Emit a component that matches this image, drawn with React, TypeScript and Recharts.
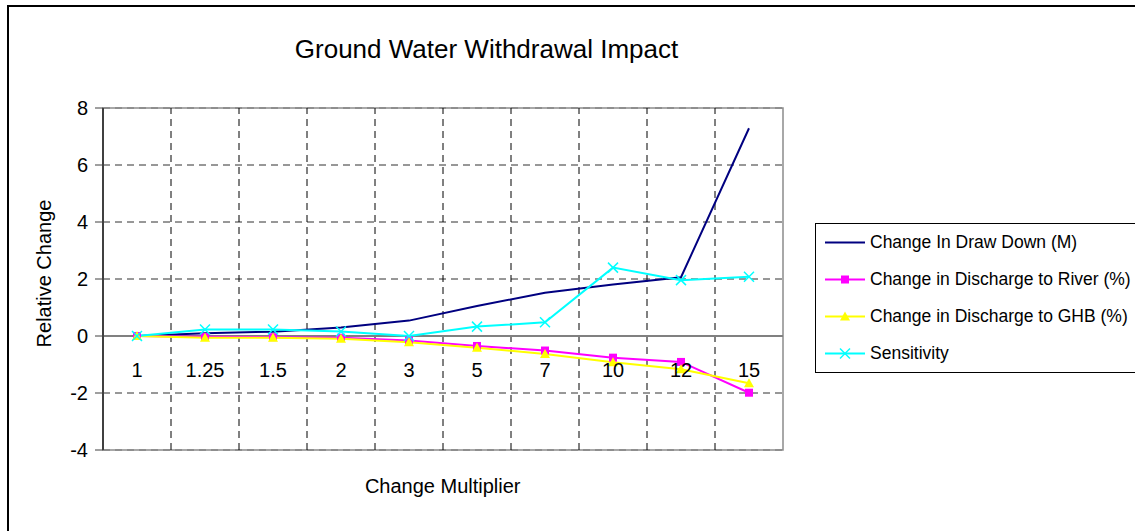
import React from "react";
import { LineChart, Line, XAxis, YAxis, CartesianGrid, ReferenceLine, ReferenceArea, Legend } from "recharts";

const multipliers = ["1", "1.25", "1.5", "2", "3", "5", "7", "10", "12", "15"];
const drawDown = [0, 0.1, 0.15, 0.3, 0.54, 1.05, 1.52, 1.81, 2.06, 7.29];
const river = [0, -0.03, -0.04, -0.06, -0.16, -0.35, -0.51, -0.76, -0.91, -1.99];
const ghb = [0, -0.06, -0.06, -0.1, -0.22, -0.41, -0.63, -0.92, -1.17, -1.66];
const sensitivity = [0, 0.23, 0.23, 0.16, 0, 0.33, 0.48, 2.4, 1.96, 2.08];
const yTicks = [-4, -2, 0, 2, 4, 6, 8];

const data = multipliers.map((m, i) => ({
    i,
    label: m,
    drawDown: drawDown[i],
    river: river[i],
    ghb: ghb[i],
    sensitivity: sensitivity[i],
}));

const FONT = "'Liberation Sans', Arial, sans-serif";

const series = [
    { key: "drawDown", name: "Change In Draw Down (M)", color: "#000080", marker: "none" },
    { key: "river", name: "Change in Discharge to River (%)", color: "#FF00FF", marker: "square" },
    { key: "ghb", name: "Change in Discharge to GHB (%)", color: "#FFFF00", marker: "triangle" },
    { key: "sensitivity", name: "Sensitivity", color: "#00FFFF", marker: "cross" },
];

function Marker({ type, cx, cy, color }: { type: string; cx: number; cy: number; color: string }) {
    if (type === "square") return <rect x={cx - 4} y={cy - 4} width={8} height={8} fill={color} />;
    if (type === "triangle") return <polygon points={`${cx},${cy - 5} ${cx + 5},${cy + 4} ${cx - 5},${cy + 4}`} fill={color} />;
    if (type === "cross")
        return (
            <g stroke={color} strokeWidth={1.5}>
                <line x1={cx - 5} y1={cy - 5} x2={cx + 5} y2={cy + 5} />
                <line x1={cx - 5} y1={cy + 5} x2={cx + 5} y2={cy - 5} />
            </g>
        );
    return null;
}

const makeDot = (type: string, color: string) => (props: any) => {
    const { cx, cy, index } = props;
    if (cx == null || cy == null) return <g key={`d-${index}`} />;
    return <g key={`d-${index}`}><Marker type={type} cx={cx} cy={cy} color={color} /></g>;
};

// category labels sit just under the zero line, inside the plot
const XTick = (props: any) => {
    const { x, y, payload } = props;
    return (
        <text x={x} y={y - 73} textAnchor="middle" fontSize={20} fontFamily={FONT} fill="#000">
            {multipliers[payload.value]}
        </text>
    );
};

const renderLegend = () => (
    <div style={{ border: "1px solid #000", background: "#fff", boxSizing: "border-box", width: 340, height: 150, fontFamily: FONT, fontSize: 17.5 }}>
        {series.map((s) => (
            <div key={s.key} style={{ position: "relative", height: 37, lineHeight: "37px" }}>
                <svg width={50} height={37} style={{ position: "absolute", left: 0, top: 0 }}>
                    <line x1={9} y1={18.5} x2={49} y2={18.5} stroke={s.color} strokeWidth={2} />
                    <Marker type={s.marker} cx={29} cy={18.5} color={s.color} />
                </svg>
                <span style={{ position: "absolute", left: 54, top: 0, whiteSpace: "nowrap", color: "#000" }}>{s.name}</span>
            </div>
        ))}
    </div>
);

export default function App() {
    return (
        <div style={{ position: "absolute", left: 0, top: 0, width: 1135, height: 531, overflow: "hidden", background: "#fff" }}>
            <div style={{ position: "absolute", left: 7, top: 5, width: 1200, height: 600, border: "2px solid #000" }} />
            <div style={{ position: "absolute", left: 0, top: 0 }}>
                <LineChart width={1135} height={531} data={data} margin={{ top: 108, right: 352, bottom: 51, left: 43 }}>
                    <CartesianGrid vertical={false} stroke="#303030" strokeDasharray="7 5" />
                    <ReferenceArea x1={-0.5} x2={9.5} y1={-4} y2={8} fill="none" stroke="#8c8c8c" strokeWidth={1.5} />
                    {multipliers.slice(1).map((_, i) => (
                        <ReferenceLine key={i} x={i + 0.5} stroke="#000" strokeDasharray="7 5" />
                    ))}
                    <ReferenceLine y={0} stroke="#808080" strokeWidth={2} />
                    <XAxis
                        type="number"
                        dataKey="i"
                        domain={[-0.5, 9.5]}
                        ticks={data.map((d) => d.i)}
                        axisLine={false}
                        tickLine={false}
                        tickSize={0}
                        tickMargin={0}
                        height={30}
                        tick={<XTick />}
                        interval={0}
                    />
                    <YAxis
                        domain={[-4, 8]}
                        ticks={yTicks}
                        width={60}
                        tickSize={8}
                        tickMargin={7}
                        axisLine={{ stroke: "#404040", strokeWidth: 2 }}
                        tickLine={{ stroke: "#404040" }}
                        tick={{ fontSize: 20, fontFamily: FONT, fill: "#000" }}
                        interval={0}
                    />
                    <Legend
                        layout="vertical"
                        align="center"
                        verticalAlign="middle"
                        content={renderLegend}
                        wrapperStyle={{ left: 815, top: 223, width: 340, height: 150 }}
                    />
                    {series.map((s) => (
                        <Line
                            key={s.key}
                            dataKey={s.key}
                            name={s.name}
                            stroke={s.color}
                            strokeWidth={2}
                            type="linear"
                            dot={s.marker === "none" ? false : makeDot(s.marker, s.color)}
                            activeDot={false}
                            isAnimationActive={false}
                        />
                    ))}
                </LineChart>
            </div>
            <svg width={1135} height={531} style={{ position: "absolute", left: 0, top: 0, pointerEvents: "none" }}>
                <text x={486.5} y={58} textAnchor="middle" fontSize={26} fontFamily={FONT} fill="#000">
                    Ground Water Withdrawal Impact
                </text>
                <text x={50.5} y={273.5} transform="rotate(-90 50.5 273.5)" textAnchor="middle" fontSize={20} fontFamily={FONT} fill="#000">
                    Relative Change
                </text>
                <text x={442.7} y={493} textAnchor="middle" fontSize={20} fontFamily={FONT} fill="#000">
                    Change Multiplier
                </text>
            </svg>
        </div>
    );
}
